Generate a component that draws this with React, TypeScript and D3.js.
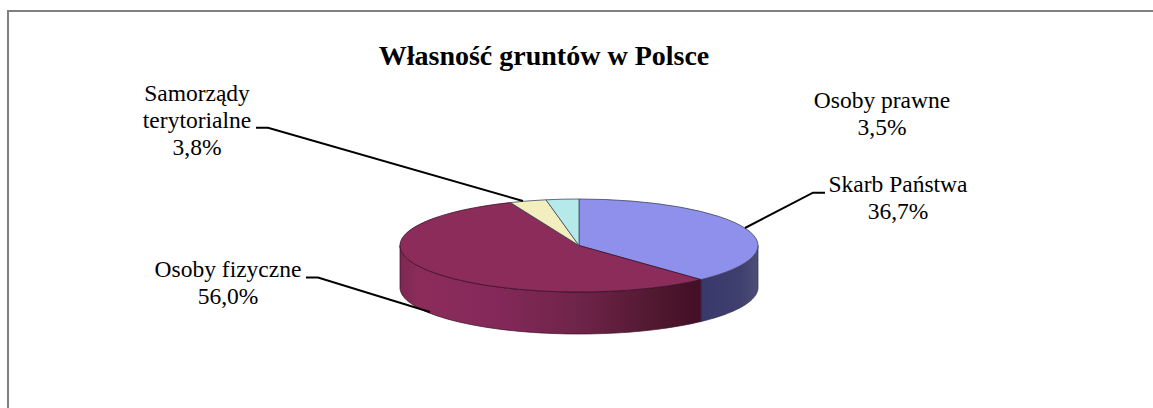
import React from "react";
import * as d3 from "d3";

const categories = ["Skarb Państwa", "Osoby fizyczne", "Samorządy terytorialne", "Osoby prawne"];
const values = [36.7, 56.0, 3.8, 3.5];
const topColors = ["#8f8fec", "#8c2c5b", "#f3eebd", "#b6e9e9"];
const title = "Własność gruntów w Polsce";

const W = 1153, H = 408;
const cx = 579, cy = 245.5, rx = 179, ry = 46.5, depth = 42;
const squash = 0.84;
const warp = (a: number) => {
  const w = Math.atan2(squash * Math.sin(a), Math.cos(a));
  return w < 0 ? w + 2 * Math.PI : w;
};
const warpEnd = (a: number) => (a >= 2 * Math.PI - 1e-6 ? 2 * Math.PI : warp(a));
const pt = (a: number, dy = 0): [number, number] => [cx + rx * Math.sin(a), cy - ry * Math.cos(a) + dy];

const pie = d3.pie<number>().sort(null)(values);
const arcGen = d3.arc();

function sidePath(a0: number, a1: number) {
  const n = 60;
  const angles = d3.range(n + 1).map((i) => a0 + ((a1 - a0) * i) / n);
  const line = d3.line();
  const top = angles.map((a) => pt(a));
  const bot = angles.slice().reverse().map((a) => pt(a, depth));
  return line([...top, ...bot]) + "Z";
}

const labelFont = "'Liberation Serif', 'Times New Roman', serif";

const labels = [
  { lines: ["Samorządy", "terytorialne", "3,8%"], x: 197, y: 101 },
  { lines: ["Osoby prawne", "3,5%"], x: 882, y: 108 },
  { lines: ["Skarb Państwa", "36,7%"], x: 898, y: 192 },
  { lines: ["Osoby fizyczne", "56,0%"], x: 228, y: 277 },
];

const leaders: [number, number][][] = [
  [[256, 127.7], [268, 127.7], [523, 201]],
  [[745, 228], [813, 192.7], [825, 192.7]],
  [[306, 277.5], [318, 277.5], [430, 312]],
];

export default function App() {
  const angles = pie.map((p) => ({ a0: warp(p.startAngle), a1: warpEnd(p.endAngle) }));
  const line = d3.line();
  return (
    <svg width={W} height={H} style={{ position: "absolute", left: 0, top: 0, background: "#fff" }}>
      <defs>
        <linearGradient id="fizSide" gradientUnits="userSpaceOnUse" x1={cx - rx} x2={cx + rx * 0.68} y1={0} y2={0}>
          <stop offset="0" stopColor="#7d2751" />
          <stop offset="0.06" stopColor="#8c2c5b" />
          <stop offset="0.3" stopColor="#85295a" />
          <stop offset="0.6" stopColor="#6e2449" />
          <stop offset="0.85" stopColor="#51182f" />
          <stop offset="1" stopColor="#420f26" />
        </linearGradient>
        <linearGradient id="skarbSide" gradientUnits="userSpaceOnUse" x1={cx + rx * 0.68} x2={cx + rx} y1={0} y2={0}>
          <stop offset="0" stopColor="#38386a" />
          <stop offset="0.7" stopColor="#40406f" />
          <stop offset="1" stopColor="#4e4e78" />
        </linearGradient>
      </defs>
      <path d={`M8 ${H}V11H${W}`} fill="none" stroke="#808080" strokeWidth={2} />
      <text x={544} y={65} textAnchor="middle" fontFamily={labelFont} fontWeight="bold" fontSize={28}>{title}</text>

      <path d={sidePath(Math.PI / 2, angles[0].a1)} fill="url(#skarbSide)" stroke="#2b2b50" strokeWidth={0.7} />
      <path d={sidePath(angles[1].a0, 1.5 * Math.PI)} fill="url(#fizSide)" stroke="#3a1026" strokeWidth={0.7} />

      <g transform={`translate(${cx},${cy}) scale(1,${ry / rx})`}>
        {categories.map((c, i) => (
          <path
            key={c}
            d={arcGen({ innerRadius: 0, outerRadius: rx, startAngle: angles[i].a0, endAngle: angles[i].a1 }) as string}
            fill={topColors[i]}
            stroke={i === 1 ? "#3a1026" : "#3e4a5c"}
            strokeWidth={0.8}
            vectorEffect="non-scaling-stroke"
          />
        ))}
      </g>

      {leaders.map((l, i) => (
        <path key={i} d={line(l) as string} fill="none" stroke="#000" strokeWidth={2} />
      ))}

      {labels.map((l) => (
        <text key={l.lines[0]} textAnchor="middle" fontFamily={labelFont} fontSize={23.5} fill="#000">
          {l.lines.map((t, i) => (
            <tspan key={t} x={l.x} y={l.y + i * 27}>{t}</tspan>
          ))}
        </text>
      ))}
    </svg>
  );
}
